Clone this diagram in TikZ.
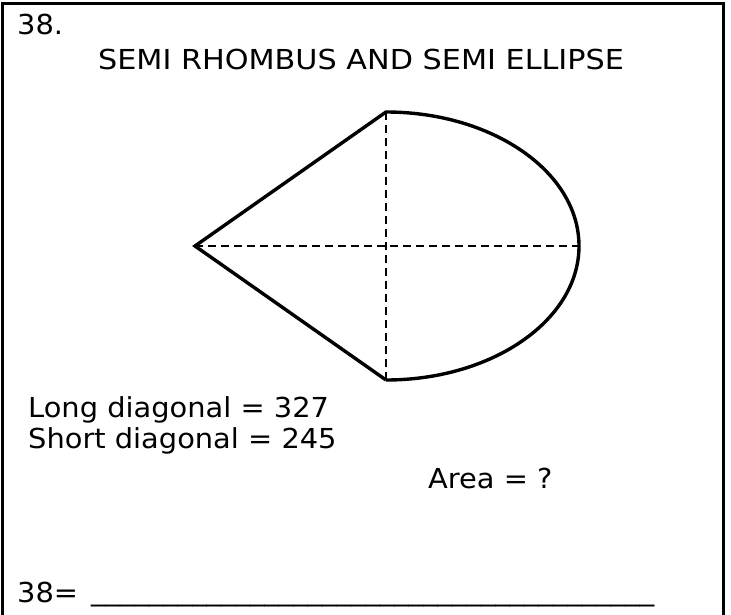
\documentclass[tikz,border=0pt]{standalone}
\usepackage{fontspec}
\setmainfont[FakeStretch=1.05]{DejaVu Sans}
\newfontfamily\titlefont[FakeStretch=1.10]{DejaVu Sans}

\begin{document}
\begin{tikzpicture}[
    x=1pt,
    y=-1pt,
    every node/.style={font=\fontsize{27.5}{33}\selectfont, inner sep=0pt},
    frameline/.style={line width=3pt},
    outline/.style={line width=3.4pt, line join=miter},
    diagline/.style={line width=2.4pt, dash pattern=on 8pt off 5pt}
  ]

  % --- 1. 寸法マクロ ---
  \def\RadX{193}
  \def\RadY{134}

  \useasboundingbox (0,0) rectangle (731,615);

  % --- 2. 枠 ---
  \draw[frameline] (2.5,625) -- (2.5,4) -- (723,4) -- (723,625);

  % --- 3. 図形の頂点 ---
  \coordinate (C) at (386,246);
  \coordinate (L) at (195,246);
  \coordinate (T) at (386,112);
  \coordinate (B) at (386,380);
  \coordinate (R) at (386+\RadX,246);

  % 対角線（破線）
  \draw[diagline] (L) -- (R);
  \draw[diagline] (T) -- (B);

  % 半ひし形と半楕円
  \draw[outline] (B) -- (L) -- (T)
    arc[start angle=-90, end angle=90, x radius=\RadX, y radius=\RadY];

  % --- 4. テキスト ---
  \node[anchor=base west] (num) at (17,35) {38.};
  \node[anchor=base, font=\fontsize{27.5}{33}\titlefont] (title) at (361,70)
    {SEMI RHOMBUS AND SEMI ELLIPSE};
  \node[anchor=base west] (long) at (28,417) {Long diagonal = 327};
  \node[anchor=base west] (short) at (28,448) {Short diagonal = 245};
  \node[anchor=base west] (area) at (428,488) {Area = ?};
  \node[anchor=base west] (answer) at (17,602) {38=};
  \node[anchor=base west] (blank) at (91,600)
    {\_\_\_\_\_\_\_\_\_\_\_\_\_\_\_\_\_\_\_\_\_\_\_\_\_\_\_\_\_\_\_\_\_\_\_\_\_\_\_};

\end{tikzpicture}
\end{document}
